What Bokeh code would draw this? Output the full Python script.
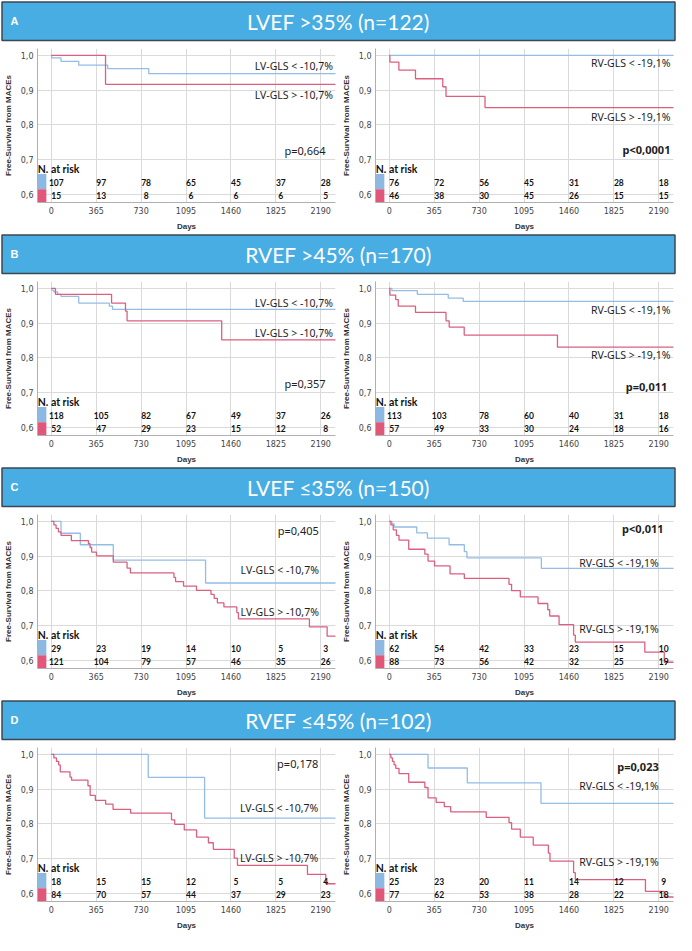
from bokeh.plotting import figure
from bokeh.layouts import column, row
from bokeh.models import Range1d, FixedTicker, CustomJSTickFormatter
from bokeh.core.properties import value
from bokeh.embed import file_html
from bokeh.resources import INLINE

# ---------------- data ----------------
day_ticks = [0, 365, 730, 1095, 1460, 1825, 2190]
surv_ticks = [0.6, 0.7, 0.8, 0.9, 1.0]

panel_letters = ["A", "B", "C", "D"]
panel_titles = ["LVEF >35% (n=122)", "RVEF >45% (n=170)",
                "LVEF \u226435% (n=150)", "RVEF \u226445% (n=102)"]

lv_labels = ["LV-GLS < -10,7%", "LV-GLS > -10,7%"]
rv_labels = ["RV-GLS < -19,1%", "RV-GLS > -19,1%"]

# Kaplan-Meier curves (day, survival) ; blue = GLS below cut-off, red = above
A_lv_blue_t = [0, 3, 79, 223, 459, 792, 2320]
A_lv_blue_s = [1.0, 0.993, 0.983, 0.972, 0.962, 0.948, 0.948]
A_lv_red_t = [0, 441, 2320]
A_lv_red_s = [1.0, 0.917, 0.917]
A_rv_blue_t = [0, 2320]
A_rv_blue_s = [1.0, 1.0]
A_rv_red_t = [0, 5, 78, 213, 435, 461, 778, 2320]
A_rv_red_s = [1.0, 0.981, 0.958, 0.933, 0.910, 0.882, 0.850, 0.850]

B_lv_blue_t = [0, 3, 21, 52, 79, 223, 472, 498, 2320]
B_lv_blue_s = [1.0, 0.995, 0.99, 0.983, 0.977, 0.958, 0.949, 0.94, 0.94]
B_lv_red_t = [0, 34, 490, 603, 616, 1385, 2320]
B_lv_red_s = [1.0, 0.983, 0.958, 0.935, 0.907, 0.852, 0.852]
B_rv_blue_t = [0, 21, 228, 479, 601, 2320]
B_rv_blue_s = [1.0, 0.994, 0.983, 0.972, 0.963, 0.963]
B_rv_red_t = [0, 5, 52, 73, 213, 461, 487, 609, 1367, 2320]
B_rv_red_s = [1.0, 0.981, 0.968, 0.949, 0.931, 0.907, 0.889, 0.866, 0.831, 0.831]

C_lv_blue_t = [0, 79, 236, 504, 1254, 2320]
C_lv_blue_s = [1.0, 0.966, 0.933, 0.889, 0.823, 0.823]
C_lv_red_t = [0, 21, 39, 58, 79, 163, 302, 315, 328, 367, 504, 616, 643, 997, 1010,
              1075, 1180, 1298, 1324, 1350, 1403, 1508, 1521, 2098, 2242, 2320]
C_lv_red_s = [1.0, 0.99, 0.98, 0.97, 0.96, 0.945, 0.936, 0.925, 0.912, 0.901, 0.883,
              0.866, 0.852, 0.839, 0.827, 0.814, 0.802, 0.79, 0.779, 0.766, 0.754,
              0.738, 0.72, 0.697, 0.67, 0.67]
C_rv_blue_t = [0, 21, 39, 223, 310, 486, 610, 631, 1236, 2320]
C_rv_blue_s = [1.0, 0.993, 0.984, 0.967, 0.952, 0.933, 0.913, 0.895, 0.865, 0.865]
C_rv_red_t = [0, 13, 32, 58, 79, 158, 289, 315, 368, 494, 610, 973, 994, 1065, 1209,
              1288, 1304, 1380, 1498, 1512, 2077, 2235, 2320]
C_rv_red_s = [1.0, 0.99, 0.976, 0.96, 0.946, 0.92, 0.906, 0.886, 0.872, 0.849, 0.836,
              0.819, 0.801, 0.783, 0.764, 0.746, 0.728, 0.703, 0.673, 0.653, 0.624,
              0.595, 0.595]

D_lv_blue_t = [0, 788, 1246, 2320]
D_lv_blue_s = [1.0, 0.934, 0.817, 0.817]
D_lv_red_t = [0, 21, 42, 60, 73, 152, 165, 298, 316, 358, 442, 502, 645, 977, 1003,
              1081, 1181, 1277, 1317, 1487, 1513, 2082, 2231, 2320]
D_lv_red_s = [1.0, 0.99, 0.98, 0.97, 0.95, 0.935, 0.926, 0.91, 0.882, 0.868, 0.857,
              0.842, 0.831, 0.812, 0.799, 0.783, 0.762, 0.746, 0.727, 0.702, 0.681,
              0.655, 0.628, 0.628]
D_rv_blue_t = [0, 315, 634, 1233, 2320]
D_rv_blue_s = [1.0, 0.961, 0.918, 0.859, 0.859]
D_rv_red_t = [0, 13, 26, 39, 53, 79, 158, 289, 315, 381, 447, 499, 788, 973, 994,
              1065, 1170, 1293, 1306, 1498, 1512, 2082, 2235, 2320]
D_rv_red_s = [1.0, 0.99, 0.98, 0.97, 0.96, 0.945, 0.92, 0.905, 0.875, 0.862, 0.85,
              0.835, 0.819, 0.804, 0.785, 0.762, 0.739, 0.716, 0.693, 0.66, 0.64,
              0.606, 0.59, 0.59]

# Numbers at risk (at day_ticks)
A_lv_risk_blue = [107, 97, 78, 65, 45, 37, 28]
A_lv_risk_red = [15, 13, 8, 6, 6, 6, 5]
A_rv_risk_blue = [76, 72, 56, 45, 31, 28, 18]
A_rv_risk_red = [46, 38, 30, 45, 26, 15, 15]
B_lv_risk_blue = [118, 105, 82, 67, 49, 37, 26]
B_lv_risk_red = [52, 47, 29, 23, 15, 12, 8]
B_rv_risk_blue = [113, 103, 78, 60, 40, 31, 18]
B_rv_risk_red = [57, 49, 33, 30, 24, 18, 16]
C_lv_risk_blue = [29, 23, 19, 14, 10, 5, 3]
C_lv_risk_red = [121, 104, 79, 57, 46, 35, 26]
C_rv_risk_blue = [62, 54, 42, 33, 23, 15, 10]
C_rv_risk_red = [88, 73, 56, 42, 32, 25, 19]
D_lv_risk_blue = [18, 15, 15, 12, 5, 5, 4]
D_lv_risk_red = [84, 70, 57, 44, 37, 29, 23]
D_rv_risk_blue = [25, 23, 20, 11, 14, 12, 9]
D_rv_risk_red = [77, 62, 53, 38, 28, 22, 18]

# p-values
p_values = {"A_lv": "p=0,664", "A_rv": "p<0,0001", "B_lv": "p=0,357", "B_rv": "p=0,011",
            "C_lv": "p=0,405", "C_rv": "p<0,011", "D_lv": "p=0,178", "D_rv": "p=0,023"}

# ---------------- style ----------------
BLUE_LINE = "#93bde6"
RED_LINE = "#dc5f80"
BLUE_PATCH = "#8db8e2"
RED_PATCH = "#e0577a"
HEADER = "#47ade3"
TXT = "#1e1e1e"
LABEL_FONT = "Noto Sans"

W_TOTAL = 676
W_HALF = 338
H_HEADER = 42
H_PLOT = 191
X_MIN, X_MAX = -112, 2310
Y_MIN, Y_MAX = 0.577, 1.02

# annotation layout per plot: (x_right, y_lo, y_hi, x_p, y_p, p_bold)
layout_cfg = {
    "A_lv": (2290, 0.971, 0.885, 2230, 0.726, False),
    "A_rv": (2285, 0.979, 0.823, 2285, 0.729, True),
    "B_lv": (2290, 0.958, 0.873, 2230, 0.728, False),
    "B_rv": (2285, 0.938, 0.809, 2260, 0.717, True),
    "C_lv": (2175, 0.860, 0.740, 2175, 0.975, False),
    "C_rv": (2190, 0.880, 0.690, 2230, 0.980, True),
    "D_lv": (2170, 0.845, 0.702, 2170, 0.974, False),
    "D_rv": (2190, 0.910, 0.690, 2190, 0.965, True),
}

curves = {
    "A_lv": (A_lv_blue_t, A_lv_blue_s, A_lv_red_t, A_lv_red_s, A_lv_risk_blue, A_lv_risk_red),
    "A_rv": (A_rv_blue_t, A_rv_blue_s, A_rv_red_t, A_rv_red_s, A_rv_risk_blue, A_rv_risk_red),
    "B_lv": (B_lv_blue_t, B_lv_blue_s, B_lv_red_t, B_lv_red_s, B_lv_risk_blue, B_lv_risk_red),
    "B_rv": (B_rv_blue_t, B_rv_blue_s, B_rv_red_t, B_rv_red_s, B_rv_risk_blue, B_rv_risk_red),
    "C_lv": (C_lv_blue_t, C_lv_blue_s, C_lv_red_t, C_lv_red_s, C_lv_risk_blue, C_lv_risk_red),
    "C_rv": (C_rv_blue_t, C_rv_blue_s, C_rv_red_t, C_rv_red_s, C_rv_risk_blue, C_rv_risk_red),
    "D_lv": (D_lv_blue_t, D_lv_blue_s, D_lv_red_t, D_lv_red_s, D_lv_risk_blue, D_lv_risk_red),
    "D_rv": (D_rv_blue_t, D_rv_blue_s, D_rv_red_t, D_rv_red_s, D_rv_risk_blue, D_rv_risk_red),
}

RISK_Y_BLUE = 0.634
RISK_Y_RED = 0.596
RISK_TITLE_Y = 0.674


def make_header(letter, title):
    h = figure(width=W_TOTAL, height=H_HEADER, output_backend="svg", toolbar_location=None,
               x_range=Range1d(0, W_TOTAL), y_range=Range1d(0, H_HEADER),
               min_border=0, outline_line_color=None)
    h.axis.visible = False
    h.grid.visible = False
    h.quad(left=[1.5], right=[W_TOTAL - 1.5], bottom=[2], top=[40.5],
           fill_color=HEADER, line_color="#3d4752", line_width=1.5)
    h.text(x=[10], y=[21.5], text=[letter], text_color="white",
           text_font=value("Liberation Sans"), text_font_style="bold",
           text_font_size="11px", text_baseline="middle", text_align="left")
    h.text(x=[W_TOTAL / 2], y=[21.5], text=[title], text_color="white",
           text_font=value("Lato"), text_font_size="21px",
           text_baseline="middle", text_align="center")
    return h


def make_km(key, labels):
    bt, bs, rt, rs, rb, rr = curves[key]
    xr, ylo, yhi, xp, yp, pbold = layout_cfg[key]
    p = figure(width=W_HALF, height=H_PLOT, output_backend="svg", toolbar_location=None,
               x_range=Range1d(X_MIN, X_MAX), y_range=Range1d(Y_MIN, Y_MAX),
               min_border_left=2, min_border_right=3, min_border_top=6,
               min_border_bottom=2, outline_line_color=None)
    p.xaxis.ticker = FixedTicker(ticks=day_ticks)
    p.yaxis.ticker = FixedTicker(ticks=surv_ticks)
    p.yaxis.formatter = CustomJSTickFormatter(code="return tick.toFixed(1).replace('.', ',');")
    p.grid.grid_line_color = "#dadada"
    p.grid.grid_line_width = 1
    for ax in (p.xaxis[0], p.yaxis[0]):
        ax.axis_line_color = "#b0b0b0"
        ax.major_tick_line_color = None
        ax.minor_tick_line_color = None
        ax.major_tick_out = 0
        ax.major_tick_in = 0
        ax.minor_tick_out = 0
        ax.minor_tick_in = 0
        ax.major_label_text_font = "DejaVu Sans"
        ax.major_label_text_font_size = "8px"
        ax.major_label_text_color = "#444444"
        ax.axis_label_text_font = "Liberation Sans"
        ax.axis_label_text_font_size = "8px"
        ax.axis_label_text_font_style = "bold"
        ax.axis_label_text_color = "#333333"
        ax.major_label_standoff = 4
        ax.axis_label_standoff = 5
    p.xaxis.axis_label = "Days"
    p.yaxis.axis_label = "Free-Survival from MACEs"

    p.step(bt, bs, mode="after", line_color=BLUE_LINE, line_width=1.3)
    p.step(rt, rs, mode="after", line_color=RED_LINE, line_width=1.3)

    # number at risk table
    half = (RISK_Y_BLUE - RISK_Y_RED) / 2
    p.quad(left=[X_MIN + 2, X_MIN + 2], right=[-40, -40],
           bottom=[RISK_Y_BLUE - half, Y_MIN], top=[RISK_Y_BLUE + 0.025, RISK_Y_BLUE - half],
           fill_color=[BLUE_PATCH, RED_PATCH], line_color=None)
    p.text(x=[X_MIN + 2], y=[RISK_TITLE_Y], text=["N. at risk"], text_color="#111111",
           text_font=value("Lato"), text_font_style="bold", text_font_size="10.5px",
           text_baseline="middle", text_align="left")
    p.text(x=day_ticks, y=[RISK_Y_BLUE] * len(day_ticks), text=[str(v) for v in rb],
           x_offset=5, text_color="#111111", text_font=value("Lato"),
           text_font_style="bold", text_font_size="8.5px", text_baseline="middle",
           text_align="center")
    p.text(x=day_ticks, y=[RISK_Y_RED] * len(day_ticks), text=[str(v) for v in rr],
           x_offset=5, text_color="#111111", text_font=value("Lato"),
           text_font_style="bold", text_font_size="8.5px", text_baseline="middle",
           text_align="center")

    # group labels and p value
    p.text(x=[xr, xr], y=[ylo, yhi], text=labels, text_color=TXT,
           text_font=value(LABEL_FONT), text_font_size="10.5px",
           text_baseline="middle", text_align="right")
    p.text(x=[xp], y=[yp], text=[p_values[key]], text_color=TXT,
           text_font=value(LABEL_FONT), text_font_size="11px",
           text_font_style="bold" if pbold else "normal",
           text_baseline="middle", text_align="right")
    return p


items = []
for letter, title in zip(panel_letters, panel_titles):
    items.append(make_header(letter, title))
    items.append(row(make_km(letter + "_lv", lv_labels), make_km(letter + "_rv", rv_labels)))

layout = column(*items)
open("out.html", "w").write(file_html(layout, INLINE))
